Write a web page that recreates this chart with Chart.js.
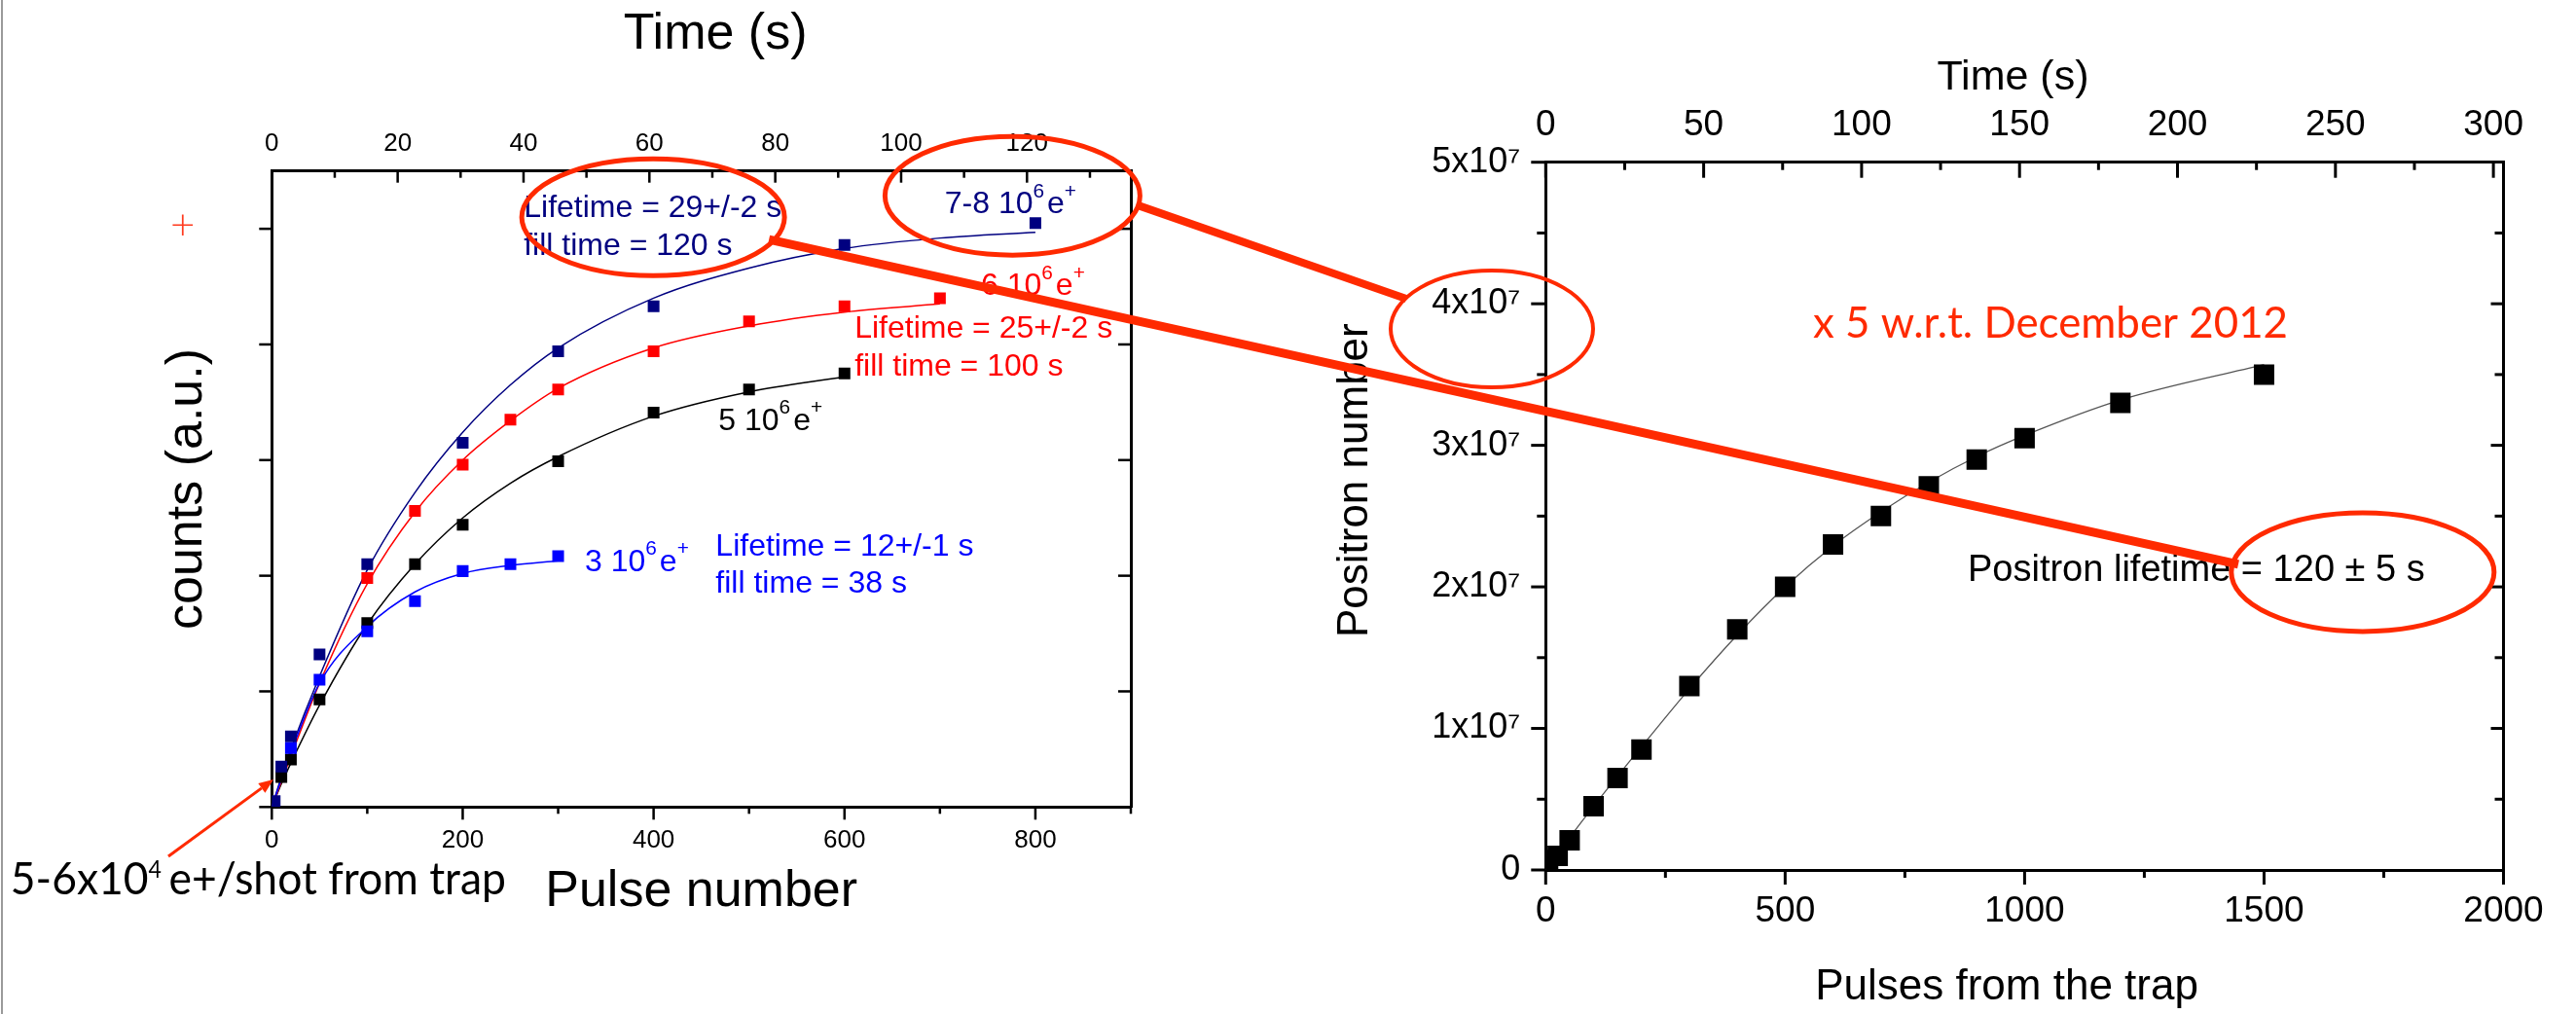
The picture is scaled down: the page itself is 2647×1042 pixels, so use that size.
<!DOCTYPE html>
<html>
<head>
<meta charset="utf-8">
<script src="https://cdn.jsdelivr.net/npm/chart.js@4.4.1/dist/chart.umd.min.js"></script>
<style>
  html, body { margin: 0; padding: 0; background: #fff; }
  #wrap { position: relative; width: 2647px; height: 1042px; overflow: hidden; background: #fff; }
  canvas { position: absolute; top: 0; }
  #c1 { left: 0; }
  #c2 { left: 1300px; }
  #ov { left: 0; pointer-events: none; }
  #edge { position: absolute; left: 1px; top: 0; width: 2px; height: 1042px; background: #9a9a9a; }
</style>
</head>
<body>
<div id="wrap">
  <canvas id="c1" width="1200" height="1042"></canvas>
  <canvas id="c2" width="1347" height="1042"></canvas>
  <canvas id="ov" width="2647" height="1042"></canvas>
  <div id="edge"></div>
</div>
<script>
// ================= DATA : left panel =================
const pulseTicksL      = [0, 200, 400, 600, 800];
const pulseMinorTicksL = [100, 300, 500, 700, 900];
const timeTicksL       = [0, 20, 40, 60, 80, 100, 120];
const timeMinorTicksL  = [10, 30, 50, 70, 90, 110, 130];
const countTicksL      = [0, 1, 2, 3, 4, 5];

const navyPulses  = [3, 10, 20, 50, 100, 200, 300, 400, 600, 800];
const navyCounts  = [0.05, 0.35, 0.61, 1.32, 2.10, 3.15, 3.94, 4.33, 4.86, 5.05];
const redPulses   = [100, 150, 200, 250, 300, 400, 500, 600, 700];
const redCounts   = [1.98, 2.56, 2.96, 3.35, 3.61, 3.94, 4.20, 4.33, 4.40];
const blackPulses = [10, 20, 50, 100, 150, 200, 300, 400, 500, 600];
const blackCounts = [0.26, 0.41, 0.93, 1.59, 2.10, 2.44, 2.99, 3.41, 3.61, 3.75];
const bluePulses  = [20, 50, 100, 150, 200, 250, 300];
const blueCounts  = [0.51, 1.10, 1.52, 1.78, 2.04, 2.10, 2.17];

// fitted curves
const navyFitPulses  = [0, 10, 20, 50, 100, 150, 200, 250, 300, 400, 500, 600, 700, 800];
const navyFitCounts  = [0, 0.26, 0.50, 1.13, 2.05, 2.72, 3.24, 3.65, 3.97, 4.40, 4.66, 4.83, 4.92, 4.97];
const redFitPulses   = [0, 10, 20, 50, 100, 150, 200, 250, 300, 400, 500, 600, 700];
const redFitCounts   = [0, 0.22, 0.44, 1.07, 1.93, 2.55, 3.00, 3.34, 3.62, 3.97, 4.16, 4.28, 4.35];
const blackFitPulses = [0, 10, 20, 50, 100, 150, 200, 250, 300, 400, 500, 600];
const blackFitCounts = [0, 0.20, 0.38, 0.88, 1.58, 2.10, 2.50, 2.80, 3.03, 3.38, 3.59, 3.72];
const blueFitPulses  = [0, 10, 20, 50, 100, 150, 200, 250, 300];
const blueFitCounts  = [0, 0.24, 0.47, 1.07, 1.56, 1.86, 2.02, 2.09, 2.13];

// ================= DATA : right panel =================
const pulseTicksR         = [0, 500, 1000, 1500, 2000];
const pulseMinorTicksR    = [250, 750, 1250, 1750];
const timeTicksR          = [0, 50, 100, 150, 200, 250, 300];
const timeMinorTicksR     = [25, 75, 125, 175, 225, 275];
const positronTicksR      = [0, 1e7, 2e7, 3e7, 4e7, 5e7];
const positronMinorTicksR = [0.5e7, 1.5e7, 2.5e7, 3.5e7, 4.5e7];

const trapPulses = [5, 25, 50, 100, 150, 200, 300, 400, 500, 600, 700, 800, 900, 1000, 1200, 1500];
const positrons  = [0.07e7, 0.10e7, 0.21e7, 0.45e7, 0.65e7, 0.85e7, 1.30e7, 1.70e7, 2.00e7, 2.30e7, 2.50e7, 2.71e7, 2.90e7, 3.05e7, 3.30e7, 3.50e7];
const fitPulsesR   = [0, 50, 100, 200, 300, 400, 500, 600, 700, 800, 900, 1000, 1200, 1500];
const fitPositrons = [0, 0.23e7, 0.45e7, 0.87e7, 1.28e7, 1.66e7, 2.00e7, 2.29e7, 2.53e7, 2.74e7, 2.92e7, 3.07e7, 3.32e7, 3.57e7];

// ================= STYLE / LAYOUT =================
const ARIAL = "'Liberation Sans', Arial, Helvetica, sans-serif";
const HUMAN = "Lato, 'Open Sans', sans-serif";
const NAVY = '#000080', RED = '#ff0000', BLUE = '#0000ff', BLACK = '#000000', ANNOT = '#ff2a00';
const H = 1042;
const W1 = 1200, AREA1 = { left: 279.3, right: 1162, top: 175.7, bottom: 829.3 };
const W2 = 1347, AREA2 = { left: 288.3, right: 1272.5, top: 166.7, bottom: 894 };
const OFF2 = 1300;

Chart.defaults.font.family = ARIAL;
Chart.defaults.color = '#000';

const zip = (xs, ys) => xs.map((x, i) => ({ x, y: ys[i] }));
const fixW = w => s => { s.width = w; };
const fixH = h => s => { s.height = h; };
const useTicks = arr => s => { s.ticks = arr.map(v => ({ value: v })); };
const fnt = (size, family = ARIAL) => ({ family, size, weight: 'normal' });

function axis(o) {
  return {
    type: 'linear', position: o.position, min: o.min, max: o.max,
    afterBuildTicks: useTicks(o.ticks),
    afterFit: o.fit,
    grid: { display: false, drawTicks: false },
    border: { display: true, width: 3, color: '#000' },
    ticks: {
      display: o.labels !== false, color: '#000', font: o.tickFont, padding: o.tickPad || 0,
      maxRotation: 0, minRotation: 0, autoSkip: false,
      callback: o.fmt || (v => String(v))
    },
    title: o.title ? { display: true, text: o.title, color: '#000', font: o.titleFont, padding: o.titlePad } : { display: false }
  };
}

function tickPlugin(specs, lw) {
  return {
    id: 'tickMarks',
    afterDraw(chart) {
      const ctx = chart.ctx, a = chart.chartArea;
      ctx.save();
      ctx.strokeStyle = '#000';
      ctx.lineWidth = lw;
      specs.forEach(t => {
        const s = chart.scales[t.scale];
        t.values.forEach(v => {
          const p = s.getPixelForValue(v);
          ctx.beginPath();
          if (t.side === 'bottom') { ctx.moveTo(p, a.bottom); ctx.lineTo(p, a.bottom + t.len); }
          else if (t.side === 'top') { ctx.moveTo(p, a.top); ctx.lineTo(p, a.top + t.len); }
          else if (t.side === 'left') { ctx.moveTo(a.left, p); ctx.lineTo(a.left - t.len, p); }
          else { ctx.moveTo(a.right, p); ctx.lineTo(a.right - t.len, p); }
          ctx.stroke();
        });
      });
      ctx.restore();
    }
  };
}

function drawRich(ctx, x, y, n) {
  const fam = n.family || ARIAL, size = n.size, ss = n.supScale || 0.65, rise = n.supRise || 0.52;
  const wt = n.weight || 'normal';
  ctx.save();
  ctx.fillStyle = n.color;
  ctx.textBaseline = 'alphabetic';
  ctx.textAlign = 'left';
  let total = 0;
  const widths = n.parts.map(p => {
    ctx.font = `${wt} ${p.sup ? size * ss : size}px ${fam}`;
    const w = ctx.measureText(p.t).width;
    total += w + (p.gap || 0);
    return w;
  });
  const sx = n.width ? n.width / total : 1;
  ctx.translate(x, y);
  ctx.scale(sx, 1);
  let cx = 0;
  n.parts.forEach((p, i) => {
    ctx.font = `${wt} ${p.sup ? size * ss : size}px ${fam}`;
    ctx.fillText(p.t, cx, p.sup ? -size * rise : 0);
    cx += widths[i] + (p.gap || 0);
  });
  ctx.restore();
}

function notesPlugin(notes) {
  return {
    id: 'notes',
    afterDraw(chart) {
      notes.forEach(n => drawRich(chart.ctx, chart.scales.x.getPixelForValue(n.x), chart.scales.y.getPixelForValue(n.y), n));
    }
  };
}

const e6 = lead => [{ t: lead }, { t: '6', sup: true, gap: 3 }, { t: 'e' }, { t: '+', sup: true }];

// annotations placed in data coordinates of each panel
const notesL = [
  { x: 264, y: 5.104, size: 32, color: NAVY, parts: [{ t: 'Lifetime = 29+/-2 s' }] },
  { x: 264, y: 4.775, size: 32, color: NAVY, parts: [{ t: 'fill time = 120 s' }] },
  { x: 705, y: 5.132, size: 32, color: NAVY, parts: e6('7-8 10') },
  { x: 743, y: 4.425, size: 32, color: RED, parts: e6('6 10') },
  { x: 610.6, y: 4.060, size: 32, color: RED, parts: [{ t: 'Lifetime = 25+/-2 s' }] },
  { x: 610.6, y: 3.730, size: 32, color: RED, parts: [{ t: 'fill time = 100 s' }] },
  { x: 468, y: 3.261, size: 32, color: BLACK, parts: e6('5 10') },
  { x: 328, y: 2.041, size: 32, color: BLUE, parts: e6('3 10') },
  { x: 465, y: 2.177, size: 32, color: BLUE, parts: [{ t: 'Lifetime = 12+/-1 s' }] },
  { x: 465, y: 1.853, size: 32, color: BLUE, parts: [{ t: 'fill time = 38 s' }] },
  { x: -273.7, y: -0.755, size: 47, family: HUMAN, color: BLACK, width: 509, supScale: 0.52, supRise: 0.36,
    parts: [{ t: '5-6x10' }, { t: '4', sup: true, gap: 8 }, { t: 'e+/shot from trap' }] },
  { x: -106.4, y: 4.912, size: 44, family: HUMAN, weight: 300, color: '#ff3b1f', parts: [{ t: '+' }] }
];
const notesR = [
  { x: 558.2, y: 3.763e7, size: 44, family: HUMAN, color: ANNOT, width: 488, parts: [{ t: 'x 5 w.r.t. December 2012' }] },
  { x: 881.3, y: 2.043e7, size: 38, color: BLACK, parts: [{ t: 'Positron lifetime = 120 \u00b1 5 s' }] }
];

// ================= LEFT CHART =================
const ptsL = (data, color) => ({ data, showLine: false, pointStyle: 'rect', pointRadius: 8.5, pointBorderWidth: 0, backgroundColor: color, borderColor: color, clip: 0 });
const fitL = (data, color) => ({ data, showLine: true, pointRadius: 0, borderWidth: 1.5, borderColor: color, cubicInterpolationMode: 'monotone', fill: false });

const chartL = new Chart(document.getElementById('c1'), {
  type: 'scatter',
  data: {
    datasets: [
      ptsL(zip(bluePulses, blueCounts), BLUE),
      ptsL(zip(navyPulses, navyCounts), NAVY),
      ptsL(zip(redPulses, redCounts), RED),
      ptsL(zip(blackPulses, blackCounts), BLACK),
      fitL(zip(blueFitPulses, blueFitCounts), BLUE),
      fitL(zip(navyFitPulses, navyFitCounts), NAVY),
      fitL(zip(redFitPulses, redFitCounts), RED),
      fitL(zip(blackFitPulses, blackFitCounts), BLACK)
    ]
  },
  options: {
    responsive: false, animation: false, devicePixelRatio: 1, events: [],
    layout: { padding: 0 },
    plugins: { legend: { display: false }, tooltip: { enabled: false } },
    scales: {
      x: axis({ position: 'bottom', min: 0, max: 900, ticks: pulseTicksL, fit: fixH(H - AREA1.bottom),
        tickFont: fnt(26), tickPad: 18.6, title: 'Pulse number', titleFont: fnt(52), titlePad: { top: 0, bottom: 93.8 } }),
      x2: axis({ position: 'top', min: 0, max: 136.5, ticks: timeTicksL, fit: fixH(AREA1.top),
        tickFont: fnt(26), tickPad: 12.7, title: '  Time (s)', titleFont: fnt(52), titlePad: { top: 4, bottom: 0 } }),
      y: axis({ position: 'left', min: 0, max: 5.5, ticks: countTicksL, fit: fixW(AREA1.left), labels: false,
        tickFont: fnt(26), title: 'counts (a.u.)', titleFont: fnt(52), titlePad: { top: 161, bottom: 0 } }),
      y2: axis({ position: 'right', min: 0, max: 5.5, ticks: countTicksL, fit: fixW(W1 - AREA1.right), labels: false, tickFont: fnt(26) })
    }
  },
  plugins: [
    tickPlugin([
      { scale: 'x', side: 'bottom', values: pulseTicksL, len: 13 },
      { scale: 'x', side: 'bottom', values: pulseMinorTicksL, len: 7 },
      { scale: 'x2', side: 'top', values: timeTicksL, len: 12 },
      { scale: 'x2', side: 'top', values: timeMinorTicksL, len: 7 },
      { scale: 'y', side: 'left', values: countTicksL, len: 13 },
      { scale: 'y2', side: 'right', values: countTicksL.slice(1), len: 13 }
    ], 2.5),
    notesPlugin(notesL)
  ]
});

// ================= RIGHT CHART =================
const chartR = new Chart(document.getElementById('c2'), {
  type: 'scatter',
  data: {
    datasets: [
      { data: zip(trapPulses, positrons), showLine: false, pointStyle: 'rect', pointRadius: 14.85, pointBorderWidth: 0,
        backgroundColor: BLACK, borderColor: BLACK, clip: 0 },
      { data: zip(fitPulsesR, fitPositrons), showLine: true, pointRadius: 0, borderWidth: 1.3, borderColor: '#555',
        cubicInterpolationMode: 'monotone', fill: false }
    ]
  },
  options: {
    responsive: false, animation: false, devicePixelRatio: 1, events: [],
    layout: { padding: 0 },
    plugins: { legend: { display: false }, tooltip: { enabled: false } },
    scales: {
      x: axis({ position: 'bottom', min: 0, max: 2000, ticks: pulseTicksR, fit: fixH(H - AREA2.bottom),
        tickFont: fnt(37), tickPad: 21, title: 'Pulses from the trap   ', titleFont: fnt(44), titlePad: { top: 0, bottom: 0.8 } }),
      x2: axis({ position: 'top', min: 0, max: 303.2, ticks: timeTicksR, fit: fixH(AREA2.top),
        tickFont: fnt(37), tickPad: 15.6, title: 'Time (s)  ', titleFont: fnt(43), titlePad: { top: 54, bottom: 0 } }),
      y: axis({ position: 'left', min: 0, max: 5e7, ticks: positronTicksR, fit: fixW(AREA2.left),
        tickFont: fnt(36), tickPad: 26, fmt: v => v === 0 ? '0' : (v / 1e7) + 'x10\u2077',
        title: '      Positron number', titleFont: fnt(44), titlePad: { top: 66, bottom: 0 } }),
      y2: axis({ position: 'right', min: 0, max: 5e7, ticks: positronTicksR, fit: fixW(W2 - AREA2.right), labels: false, tickFont: fnt(36) })
    }
  },
  plugins: [
    tickPlugin([
      { scale: 'x', side: 'bottom', values: pulseTicksR, len: 15 },
      { scale: 'x', side: 'bottom', values: pulseMinorTicksR, len: 8 },
      { scale: 'x2', side: 'top', values: timeTicksR, len: 16 },
      { scale: 'x2', side: 'top', values: timeMinorTicksR, len: 8 },
      { scale: 'y', side: 'left', values: positronTicksR, len: 15 },
      { scale: 'y', side: 'left', values: positronMinorTicksR, len: 9 },
      { scale: 'y2', side: 'right', values: positronTicksR.slice(1, 5), len: 13 },
      { scale: 'y2', side: 'right', values: positronMinorTicksR, len: 9 }
    ], 3),
    notesPlugin(notesR)
  ]
});

// ================= RED OVERLAY (slide annotations) =================
const panels = { L: { chart: chartL, off: 0 }, R: { chart: chartR, off: OFF2 } };
const ellipseMarks = [
  { p: 'L', x: 399.5, y: 5.10, rx: 135, ry: 60, lw: 5 },
  { p: 'L', x: 776, y: 5.286, rx: 131, ry: 61, lw: 5 },
  { p: 'R', x: -112.4, y: 3.822e7, rx: 104, ry: 60, lw: 4 },
  { p: 'R', x: 1706, y: 2.104e7, rx: 135, ry: 61, lw: 5 }
];
const linkMarks = [
  { a: { p: 'L', x: 908.5, y: 5.20 }, b: { p: 'R', x: -291.2, y: 4.035e7 }, lw: 8 },
  { a: { p: 'L', x: 520.9, y: 4.907 }, b: { p: 'R', x: 1446.2, y: 2.159e7 }, lw: 9 }
];
const arrowMark = { a: { p: 'L', x: -108.4, y: -0.427 }, b: { p: 'L', x: 1.7, y: 0.238 }, lw: 3 };

function toPage(m) {
  const P = panels[m.p];
  return [P.off + P.chart.scales.x.getPixelForValue(m.x), P.chart.scales.y.getPixelForValue(m.y)];
}

function drawOverlay() {
  const ctx = document.getElementById('ov').getContext('2d');
  ctx.clearRect(0, 0, 2647, 1042);
  ctx.strokeStyle = ANNOT;
  ctx.fillStyle = ANNOT;
  ellipseMarks.forEach(e => {
    const [cx, cy] = toPage(e);
    ctx.lineWidth = e.lw;
    ctx.beginPath();
    ctx.ellipse(cx, cy, e.rx, e.ry, 0, 0, Math.PI * 2);
    ctx.stroke();
  });
  linkMarks.forEach(l => {
    const [x1, y1] = toPage(l.a), [x2, y2] = toPage(l.b);
    ctx.lineWidth = l.lw;
    ctx.lineCap = 'butt';
    ctx.beginPath(); ctx.moveTo(x1, y1); ctx.lineTo(x2, y2); ctx.stroke();
  });
  // arrow
  const [ax, ay] = toPage(arrowMark.a), [bx, by] = toPage(arrowMark.b);
  const ang = Math.atan2(by - ay, bx - ax), hl = 15, hw = 6;
  const hx = bx - hl * Math.cos(ang), hy = by - hl * Math.sin(ang);
  ctx.lineWidth = arrowMark.lw;
  ctx.beginPath(); ctx.moveTo(ax, ay); ctx.lineTo(hx, hy); ctx.stroke();
  ctx.beginPath();
  ctx.moveTo(bx, by);
  ctx.lineTo(hx + hw * Math.sin(ang), hy - hw * Math.cos(ang));
  ctx.lineTo(hx - hw * Math.sin(ang), hy + hw * Math.cos(ang));
  ctx.closePath(); ctx.fill();
}
drawOverlay();
</script>
</body>
</html>
